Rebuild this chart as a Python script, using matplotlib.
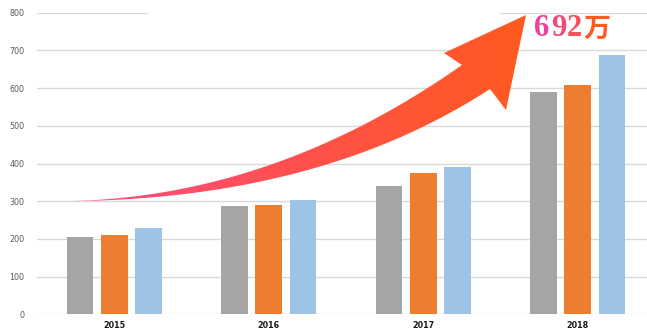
import numpy as np
import matplotlib.pyplot as plt
from matplotlib.path import Path
from matplotlib.patches import PathPatch
from matplotlib.colors import LinearSegmentedColormap

years = ['2015', '2016', '2017', '2018']
series_gray = [205, 286, 340, 590]
series_orange = [210, 291, 375, 609]
series_blue = [230, 302, 390, 688]
yticks = [0, 100, 200, 300, 400, 500, 600, 700, 800]
label_text = ['6', '9', '2', '万']
label_colors = ['#F0409E', '#F5487A', '#FA4F55', '#FF5A22']

W, H = 647, 332
fig = plt.figure(figsize=(W / 100, H / 100), dpi=100)
fig.patch.set_facecolor('white')

# main bar axes (right side runs a bit past the picture, as in the original)
ax = fig.add_axes([37 / W, (H - 314.3) / H, 618 / W, 301.6 / H])
x = np.arange(len(years))
bw = 0.172
off = 0.222
ax.bar(x - off, series_gray, bw, color='#A5A5A5', zorder=2)
ax.bar(x, series_orange, bw, color='#ED7D31', zorder=2)
ax.bar(x + off, series_blue, bw, color='#9DC3E6', zorder=2)

ax.set_xlim(-0.5, 3.5)
ax.set_ylim(0, 800)
ax.set_xticks(x)
ax.set_xticklabels(years, fontsize=5.8, fontweight='bold', color='#1a1a1a')
ax.set_yticks(yticks)
ax.set_yticklabels([str(v) for v in yticks], fontsize=5.8, color='#595959')
ax.tick_params(length=0)
ax.tick_params(axis='y', pad=9)
ax.tick_params(axis='x', pad=5)
for s in ax.spines.values():
    s.set_visible(False)

for v in yticks[:-1]:
    ax.axhline(v, color='#D9D9D9', lw=1, zorder=1)
# top line is cut where the arrow picture sits
ax.axhline(yticks[-1], xmax=(147 - 37) / 618, color='#D9D9D9', lw=1, zorder=1)
ax.axhline(yticks[-1], xmin=(500 - 37) / 618, color='#D9D9D9', lw=1, zorder=1)

# overlay in pixel units for the arrow and the label
ov = fig.add_axes([0, 0, 1, 1])
ov.set_xlim(0, W)
ov.set_ylim(H, 0)
ov.axis('off')
ov.patch.set_alpha(0)


def bezier(p0, p1, p2, n=60):
    t = np.linspace(0, 1, n)[:, None]
    p0, p1, p2 = map(np.array, (p0, p1, p2))
    return (1 - t) ** 2 * p0 + 2 * (1 - t) * t * p1 + t ** 2 * p2


start = (37, 201)
upper = bezier(start, (260, 207), (462, 65))
lower = bezier(start, (310, 206), (490, 89))
head = np.array([(444, 53), (526, 15), (506, 110)])
pts = np.vstack([upper, head, lower[::-1]])
codes = [Path.MOVETO] + [Path.LINETO] * (len(pts) - 2) + [Path.CLOSEPOLY]
arrow = PathPatch(Path(pts, codes), facecolor='none', edgecolor='none')
ov.add_patch(arrow)

cmap = LinearSegmentedColormap.from_list(
    'arr', ['#FF4F8C', '#FF4D70', '#FF5052', '#FF5535', '#FF5A20'])
xs = np.linspace(0, 1, 400)
img = cmap(xs)[None, :, :]
img[0, :, 3] = np.clip(xs / 0.12, 0.15, 1)
im = ov.imshow(img, extent=(37, 530, H, 0), aspect='auto', zorder=5,
               interpolation='bilinear')
im.set_clip_path(arrow)
ov.set_xlim(0, W)
ov.set_ylim(H, 0)

# "692万" label
xpos = [542, 558.5, 574.5, 597.5]
for ch, col, xp in zip(label_text, label_colors, xpos):
    if ch == '万':
        ov.text(xp, 28.5, ch, fontsize=19.5, fontweight='heavy', color=col,
                family=['Noto Sans CJK SC'], ha='center', va='center')
    else:
        ov.text(xp, 29, ch, fontsize=22, fontweight='bold', color=col,
                family=['Liberation Serif'], ha='center', va='center')

fig.savefig('out.png', dpi=100, facecolor='white')
